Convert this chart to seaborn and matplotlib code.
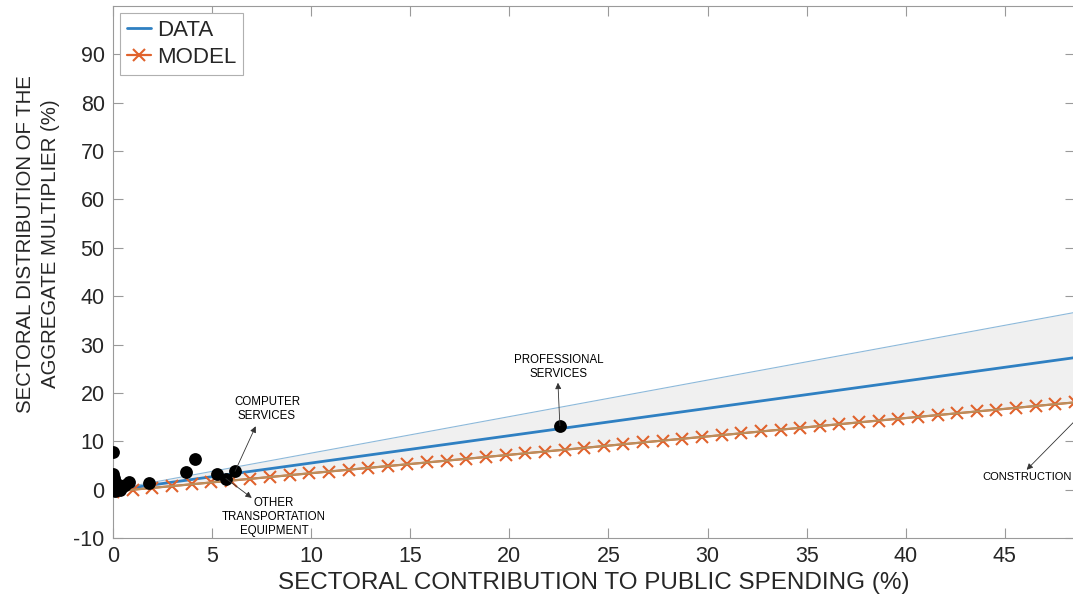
import numpy as np
import pandas as pd
import matplotlib
matplotlib.use("Agg")
import matplotlib.pyplot as plt
import seaborn as sns

# Sector shares of public spending (%) and of the aggregate multiplier (%)
sector_share = [0.02, 0.05, 0.10, 0.03, 0.15, 0.05, 0.30, 0.45, 0.60, 0.20, 0.08, 0.35,
                0.00, 0.82, 1.83, 3.68, 4.14, 5.23, 5.70, 6.16, 22.55, 49.30]
multiplier_share = [3.3, 2.4, 1.6, 0.9, 0.4, 0.1, 0.2, 0.6, 1.0, 1.2, -0.3, -0.1,
                    7.7, 1.5, 1.4, 3.65, 6.4, 3.3, 2.3, 3.8, 13.2, 17.4]

# Linear fits over the plotted range
x_max = 48.54
fit_x = [0.0, x_max]
data_fit = [-0.15, 27.3]
data_upper = [0.0, 36.65]
data_lower = [-0.4, 18.05]
model_intercept, model_slope = -0.4, 0.38
n_model_points = 50

x_ticks = list(range(0, 50, 5))
y_ticks = list(range(-10, 100, 10))

labels = {
    "COMPUTER\nSERVICES": dict(tail=(6.16, 3.8), head=(7.2, 13.1), text=(7.77, 16.6)),
    "OTHER\nTRANSPORTATION\nEQUIPMENT": dict(tail=(5.70, 2.3), head=(7.0, -1.7), text=(8.12, -5.7)),
    "PROFESSIONAL\nSERVICES": dict(tail=(22.55, 13.2), head=(22.45, 22.1), text=(22.5, 25.3)),
}

sns.set_style("ticks")
plt.rcParams["font.family"] = ["Liberation Sans", "DejaVu Sans"]
plt.rcParams["axes.unicode_minus"] = False

BLUE = "#2F80C2"
ORANGE = "#E0622C"
GREY_AX = "#9a9a9a"

fig = plt.figure(figsize=(10.73, 6.06), dpi=100)
ax = fig.add_axes([113 / 1073, 68 / 606, 962 / 1073, 532 / 606])

# Confidence band of the data fit
ax.fill_between(fit_x, data_lower, data_upper, color="#F0F0F0", lw=0, zorder=1)
sns.lineplot(x=fit_x, y=data_upper, ax=ax, color="#8DB9DA", lw=0.8, zorder=2,
             estimator=None, sort=False)

# Data fit
sns.lineplot(x=fit_x, y=data_fit, ax=ax, color=BLUE, lw=2.0, zorder=3,
             estimator=None, sort=False, label="DATA")

# Model-implied line
model_x = np.linspace(0, x_max, n_model_points)
model_y = model_intercept + model_slope * model_x
sns.lineplot(x=model_x, y=model_y, ax=ax, color=ORANGE, lw=1.6, marker="x",
             markersize=9, markeredgewidth=1.5, markeredgecolor=ORANGE,
             zorder=4, estimator=None, sort=False, label="MODEL")
sns.lineplot(x=fit_x, y=data_lower, ax=ax, color="#B8905E", lw=1.4, zorder=4.5,
             estimator=None, sort=False)

# Sector points
pts = pd.DataFrame({"share": sector_share, "mult": multiplier_share})
sns.scatterplot(data=pts, x="share", y="mult", ax=ax, color="black", s=85,
                edgecolor="black", linewidth=0, zorder=6, legend=False)

# Labelled sectors
for text, d in labels.items():
    ax.annotate("", xy=d["head"], xytext=d["tail"],
                arrowprops=dict(arrowstyle="-|>", color="#333333", lw=0.6,
                                mutation_scale=9, shrinkA=0, shrinkB=0),
                zorder=7)
    ax.text(*d["text"], text, ha="center", va="center", fontsize=8.3,
            linespacing=1.2, color="black", zorder=7)

ax.annotate("", xy=(46.1, 4.1), xytext=(49.3, 17.4),
            arrowprops=dict(arrowstyle="-|>", color="#333333", lw=0.6,
                            mutation_scale=9, shrinkA=0, shrinkB=0),
            annotation_clip=False, zorder=7)
ax.text(48.4, 2.7, "CONSTRUCTION", ha="right", va="center", fontsize=8.0,
        color="black", zorder=7, clip_on=False)

ax.set_xlim(0, x_max)
ax.set_ylim(-10, 100)
ax.set_xticks(x_ticks)
ax.set_yticks(y_ticks)
ax.tick_params(direction="in", length=7, width=0.8, color=GREY_AX,
               top=True, right=True, labelsize=15.5, labelcolor="#262626", pad=6)
for side, sp in ax.spines.items():
    sp.set_color(GREY_AX)
    sp.set_linewidth(0.8)
ax.spines["right"].set_visible(False)

ax.set_xlabel("SECTORAL CONTRIBUTION TO PUBLIC SPENDING (%)", fontsize=17.5,
              color="#262626")
ax.xaxis.label.set_va("center")
ax.xaxis.set_label_coords(0.5, (538 - 583) / 532)
ax.set_ylabel("SECTORAL DISTRIBUTION OF THE\nAGGREGATE MULTIPLIER (%)",
              fontsize=14.7, color="#262626", linespacing=1.4)
ax.yaxis.label.set_va("center")
ax.yaxis.set_label_coords((38.5 - 113) / 960, (538 - 244) / 532)

leg = ax.legend(loc="upper left", bbox_to_anchor=(0.0073, 0.987), borderaxespad=0,
                fontsize=16, frameon=True, fancybox=False, framealpha=1,
                edgecolor="#b0b0b0", handlelength=1.1, handletextpad=0.25,
                labelspacing=0.3, borderpad=0.3)
leg.get_frame().set_linewidth(0.8)

fig.savefig("out.png", dpi=100, facecolor="white")
